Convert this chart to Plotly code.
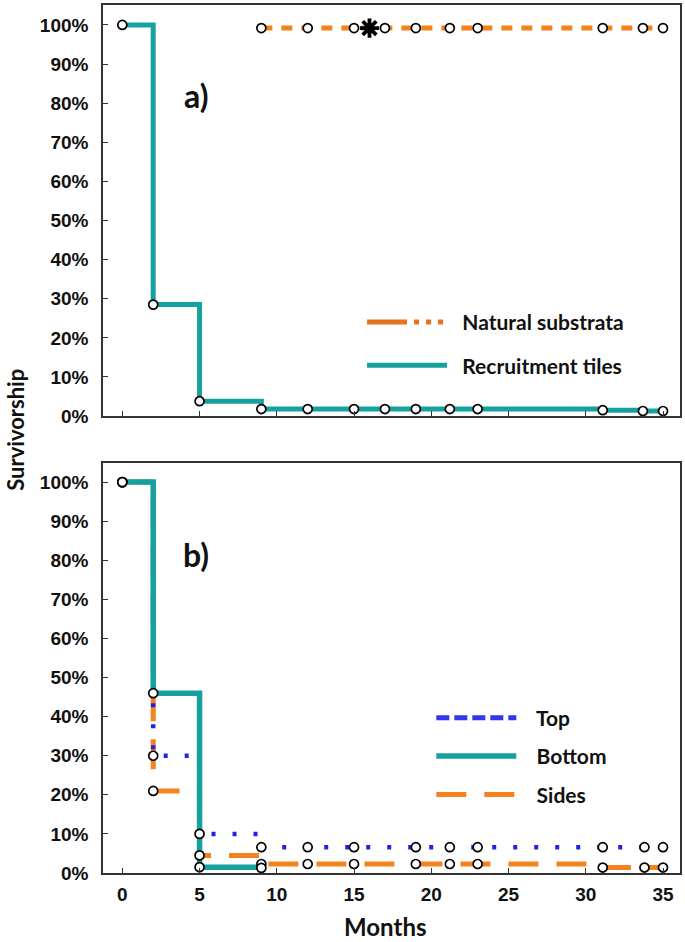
import plotly.graph_objects as go

# ---------------- Data ----------------
# Panel a)
rec_months = [0, 2, 5, 9, 12, 15, 17, 19, 21.2, 23, 31.1, 33.7, 35]
rec_surv = [100, 28.5, 3.8, 1.8, 1.8, 1.8, 1.8, 1.8, 1.8, 1.8, 1.5, 1.3, 1.3]
nat_months = [9, 12, 15, 17, 19, 21.2, 23, 31.1, 33.7, 35]
nat_surv = [99.2, 99.2, 99.2, 99.2, 99.2, 99.2, 99.2, 99.2, 99.2, 99.2]
star_months = [16]
star_surv = [99.2]

# Panel b)
top_months = [0, 2, 5, 9, 12, 15, 19, 21.2, 23, 31.1, 33.8, 35]
top_surv = [100, 30, 10, 6.6, 6.6, 6.6, 6.6, 6.6, 6.6, 6.6, 6.6, 6.6]
bottom_months = [0, 2, 5, 9]
bottom_surv = [100, 46, 1.5, 1.3]
sides_months = [0, 2, 5, 9, 12, 15, 19, 21.2, 23, 31.1, 33.8, 35]
sides_surv = [100, 21, 4.5, 2.3, 2.3, 2.3, 2.3, 2.3, 2.3, 1.4, 1.4, 1.4]

x_ticks = [0, 5, 10, 15, 20, 25, 30, 35]
y_ticks = [0, 10, 20, 30, 40, 50, 60, 70, 80, 90, 100]
y_ticklabels = [f"{v}%" for v in y_ticks]

TEAL = "#17A19E"
ORANGE = "#F4821F"
BLUE = "#2222E6"
TICK_FONT = dict(family="Liberation Sans, Arial", size=19, color="#111", weight="bold")
LAB_FONT = "Lato, Calibri, sans-serif"
PAD = "\u00a0\u00a0"

fig = go.Figure()

def circles(x, y, xa, ya):
    return go.Scatter(x=x, y=y, mode="markers", xaxis=xa, yaxis=ya, showlegend=False,
                      marker=dict(symbol="circle", size=9, color="white",
                                  line=dict(color="black", width=1.7)),
                      hoverinfo="skip")

# ---- Panel a lines
fig.add_trace(go.Scatter(x=rec_months, y=rec_surv, mode="lines", line_shape="hv",
                         line=dict(color=TEAL, width=5), xaxis="x", yaxis="y",
                         name=PAD + "Recruitment tiles", legend="legend", legendgroup="rt",
                         legendrank=2))
fig.add_trace(go.Scatter(x=nat_months, y=nat_surv, mode="lines", line_shape="hv",
                         line=dict(color=ORANGE, width=5, dash="11px,9px"),
                         xaxis="x", yaxis="y", showlegend=False))
# legend proxy for natural substrata
fig.add_trace(go.Scatter(x=[None], y=[None], mode="lines",
                         line=dict(color="#E8711C", width=5, dash="40px,7px,5px,7px,5px,7px,5px,50px"),
                         xaxis="x", yaxis="y", name=PAD + "Natural substrata", legend="legend",
                         legendgroup="ns", legendrank=1))
fig.add_trace(circles(rec_months, rec_surv, "x", "y"))
fig.add_trace(circles(nat_months, nat_surv, "x", "y"))
fig.add_trace(go.Scatter(x=star_months, y=star_surv, mode="markers", xaxis="x", yaxis="y",
                         showlegend=False,
                         marker=dict(symbol="asterisk-open", size=16, color="black",
                                     line=dict(color="black", width=3.8))))

# ---- Panel b lines
fig.add_trace(go.Scatter(x=sides_months, y=sides_surv, mode="lines", line_shape="hv",
                         line=dict(color=ORANGE, width=5, dash="30px,18px"),
                         xaxis="x2", yaxis="y2", name=PAD + "\u00a0Sides", legend="legend2",
                         legendgroup="sd", legendrank=3))
fig.add_trace(go.Scatter(x=top_months, y=top_surv, mode="lines", line_shape="hv",
                         line=dict(color=BLUE, width=4.5, dash="4px,17px"),
                         xaxis="x2", yaxis="y2", showlegend=False))
fig.add_trace(go.Scatter(x=[None], y=[None], mode="lines",
                         line=dict(color="#3535EE", width=5, dash="13px,5px"),
                         xaxis="x2", yaxis="y2", name=PAD + "\u00a0Top", legend="legend2",
                         legendgroup="tp", legendrank=1))
fig.add_trace(go.Scatter(x=bottom_months, y=bottom_surv, mode="lines", line_shape="hv",
                         line=dict(color=TEAL, width=5.5),
                         xaxis="x2", yaxis="y2", name=PAD + "\u00a0Bottom", legend="legend2",
                         legendgroup="bt", legendrank=2))
fig.add_trace(circles(sides_months, sides_surv, "x2", "y2"))
fig.add_trace(circles(top_months, top_surv, "x2", "y2"))
fig.add_trace(circles(bottom_months, bottom_surv, "x2", "y2"))

axis_common = dict(showline=True, linecolor="#333", linewidth=1.5, mirror=True,
                   ticks="inside", ticklen=5, tickcolor="#333", showgrid=False,
                   zeroline=False)

fig.update_layout(
    width=685, height=942,
    margin=dict(l=103, r=4, t=3, b=69),
    paper_bgcolor="white", plot_bgcolor="white",
    xaxis=dict(domain=[0, 1], range=[-1.25, 36.1], tickvals=x_ticks, showticklabels=False,
               anchor="y", **axis_common),
    yaxis=dict(domain=[0.5264, 1], range=[0, 105.1], tickvals=y_ticks, ticktext=y_ticklabels,
               tickfont=TICK_FONT, anchor="x", ticklabelstandoff=9, **axis_common),
    xaxis2=dict(domain=[0, 1], range=[-1.25, 36.1], tickvals=x_ticks, tickfont=TICK_FONT,
                anchor="y2", ticklabelstandoff=3, **axis_common),
    yaxis2=dict(domain=[0, 0.4724], range=[0, 104.9], tickvals=y_ticks, ticktext=y_ticklabels,
                tickfont=TICK_FONT, anchor="x2", ticklabelstandoff=9, **axis_common),
    legend=dict(x=0.449, y=0.658, xanchor="left", yanchor="top", bgcolor="rgba(0,0,0,0)",
                font=dict(family=LAB_FONT, size=21, color="#111", weight="bold"),
                itemwidth=80, traceorder="grouped", tracegroupgap=13),
    legend2=dict(x=0.569, y=0.202, xanchor="left", yanchor="top", bgcolor="rgba(0,0,0,0)",
                 font=dict(family=LAB_FONT, size=21, color="#111", weight="bold"),
                 itemwidth=80, traceorder="grouped", tracegroupgap=8),
    showlegend=True,
    annotations=[
        dict(text="a)", x=4.8, y=82, xref="x", yref="y", showarrow=False,
             font=dict(family=LAB_FONT, size=32, color="#111", weight="bold")),
        dict(text="b)", x=4.8, y=81.5, xref="x2", yref="y2", showarrow=False,
             font=dict(family=LAB_FONT, size=32, color="#111", weight="bold")),
        dict(text="Survivorship", x=-0.152, y=0.511, xref="paper", yref="paper",
             textangle=-90, showarrow=False, xanchor="center", yanchor="middle",
             font=dict(family=LAB_FONT, size=22, color="#111", weight="bold")),
        dict(text="Months", x=0.488, y=-0.062, xref="paper", yref="paper",
             showarrow=False, xanchor="center", yanchor="middle",
             font=dict(family=LAB_FONT, size=24, color="#111", weight="bold")),
    ],
)

fig.write_html("out.html", config={"displayModeBar": False},
               post_script="document.body.style.margin='0';")
